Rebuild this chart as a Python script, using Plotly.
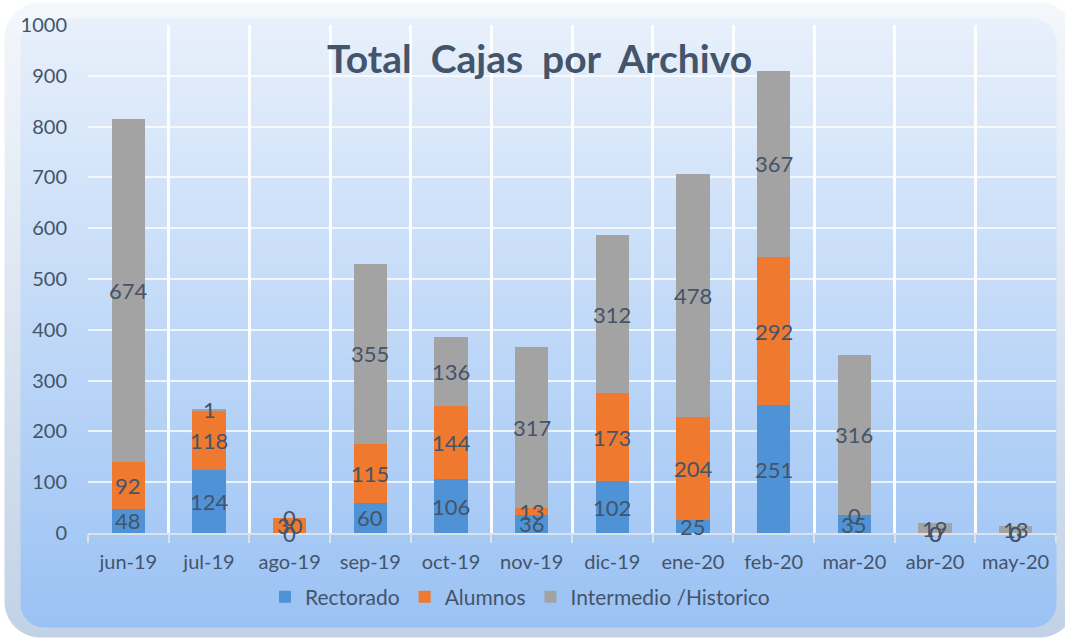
import base64, struct, zlib
import numpy as np
import plotly.graph_objects as go

# ---------------- data ----------------
months = ["jun-19", "jul-19", "ago-19", "sep-19", "oct-19", "nov-19",
          "dic-19", "ene-20", "feb-20", "mar-20", "abr-20", "may-20"]
rectorado = [48, 124, 0, 60, 106, 36, 102, 25, 251, 35, 0, 0]
alumnos = [92, 118, 30, 115, 144, 13, 173, 204, 292, 0, 0, 0]
intermedio = [674, 1, 0, 355, 136, 317, 312, 478, 367, 316, 19, 13]
series_names = ["Rectorado", "Alumnos", "Intermedio /Historico"]

# ---------------- styling ----------------
W, H = 1065, 639
ML, MR, MT, MB = 88, 9, 25, 106
TXT = "#44546a"
FONT = "Lato"
colors = ["#4f93d6", "#ef7a2f", "#a3a3a3"]


def make_bg_png():
    yy, xx = np.mgrid[0:H, 0:W].astype(float)

    def rrect_alpha(x0, y0, x1, y1, r):
        cx = np.clip(xx, x0 + r, x1 - r)
        cy = np.clip(yy, y0 + r, y1 - r)
        d = np.sqrt((xx - cx) ** 2 + (yy - cy) ** 2) - r
        return np.clip(0.5 - d, 0, 1)

    def vgrad(c0, c1, y0, y1):
        t = np.clip((yy - y0) / (y1 - y0), 0, 1)[..., None]
        return np.array(c0) * (1 - t) + np.array(c1) * t

    img = np.full((H, W, 3), 255.0)
    a1 = rrect_alpha(4, 2, 1075, 637, 36)[..., None]
    img = img * (1 - a1) + vgrad((244, 247, 251), (194, 210, 230), 2, 637) * a1
    a2 = rrect_alpha(20, 18, 1056, 627, 24)[..., None]
    img = img * (1 - a2) + vgrad((232, 240, 251), (154, 194, 244), 18, 627) * a2
    img = np.clip(img + 0.5, 0, 255).astype(np.uint8)

    raw = b"".join(b"\x00" + img[r].tobytes() for r in range(H))

    def chunk(tag, data):
        c = struct.pack(">I", len(data)) + tag + data
        return c + struct.pack(">I", zlib.crc32(tag + data) & 0xFFFFFFFF)

    png = b"\x89PNG\r\n\x1a\n"
    png += chunk(b"IHDR", struct.pack(">IIBBBBB", W, H, 8, 2, 0, 0, 0))
    png += chunk(b"IDAT", zlib.compress(raw, 9))
    png += chunk(b"IEND", b"")
    return "data:image/png;base64," + base64.b64encode(png).decode()


fig = go.Figure()
for name, vals, col in zip(series_names, [rectorado, alumnos, intermedio], colors):
    fig.add_trace(go.Bar(x=months, y=vals, name=name, width=0.41,
                         marker=dict(color=col, line=dict(width=0))))

# data labels (centered in each segment; zero segments labelled at their base)
annotations = []
base = [0] * len(months)
for vals in [rectorado, alumnos, intermedio]:
    for i, v in enumerate(vals):
        annotations.append(dict(x=months[i], y=base[i] + v / 2, text=str(v),
                                showarrow=False, xref="x", yref="y",
                                font=dict(family=FONT, size=22, color=TXT)))
        base[i] += v

pw, ph = W - ML - MR, H - MT - MB
annotations.append(dict(text="Total\u00a0 Cajas\u00a0 por\u00a0 Archivo",
                        x=(539 - ML) / pw, y=(H - MB - 58) / ph,
                        xref="paper", yref="paper", showarrow=False,
                        xanchor="center", yanchor="middle",
                        font=dict(family=FONT, size=39, color=TXT, weight="bold")))

fig.update_layout(
    width=W, height=H,
    margin=dict(l=ML, r=MR, t=MT, b=MB, autoexpand=False),
    barmode="stack",
    paper_bgcolor="white",
    plot_bgcolor="rgba(0,0,0,0)",
    font=dict(family=FONT, size=20, color=TXT),
    annotations=annotations,
    showlegend=True,
    legend=dict(orientation="h", x=(520 - ML) / pw, y=(H - MB - 597) / ph,
                xanchor="center", yanchor="middle", traceorder="normal",
                bgcolor="rgba(0,0,0,0)", font=dict(family=FONT, size=21, color=TXT),
                itemsizing="constant"),
    images=[dict(source=make_bg_png(), xref="paper", yref="paper",
                 x=-ML / pw, y=1 + MT / ph, sizex=W / pw, sizey=H / ph,
                 xanchor="left", yanchor="top", sizing="stretch", layer="below")],
    bargap=0.59,
)
fig.update_xaxes(type="category", tickson="boundaries", showgrid=True,
                 gridcolor="rgba(255,255,255,0.95)", gridwidth=2.5,
                 ticks="outside", ticklen=8, tickwidth=2, tickcolor="#dbe2ea",
                 showline=True, linecolor="#dbe2ea", linewidth=2,
                 ticklabelstandoff=10,
                 tickfont=dict(family=FONT, size=20, color=TXT))
fig.update_yaxes(range=[0, 1000], dtick=100, showgrid=True,
                 gridcolor="rgba(255,255,255,0.75)", gridwidth=1.5,
                 zeroline=False, showline=False, ticks="",
                 ticklabelstandoff=20,
                 tickfont=dict(family=FONT, size=20, color=TXT))

fig.write_html("out.html",
               config={"displayModeBar": False},
               post_script="document.body.style.margin='0';document.body.style.overflow='hidden';")
